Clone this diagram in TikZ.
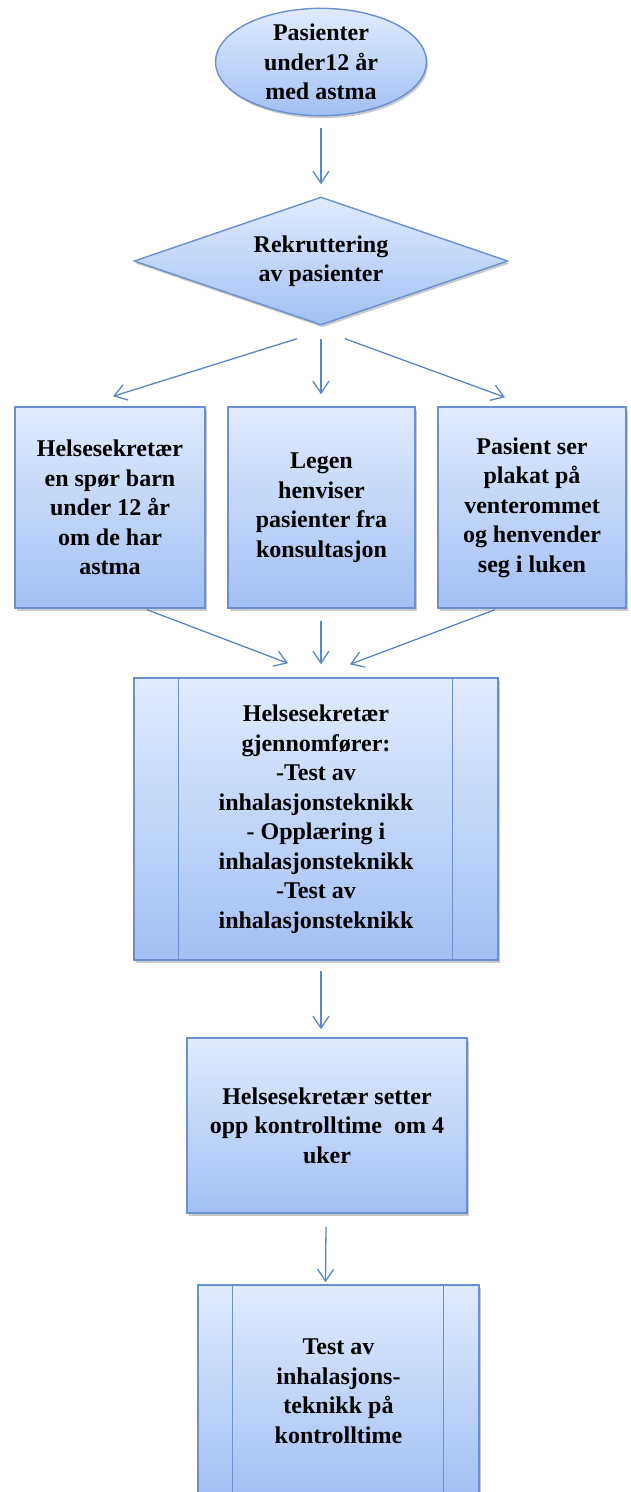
\documentclass[tikz,border=0pt]{standalone}
\usepackage{fontspec}
\setmainfont{Liberation Serif}
\usetikzlibrary{shapes.geometric,arrows.meta,shadows}
\definecolor{boxtop}{HTML}{E1EBFD}
\definecolor{boxbot}{HTML}{A2C0F5}
\definecolor{boxline}{HTML}{6B90CF}
\definecolor{arrowblue}{HTML}{5B86C6}
\tikzset{
  bluefill/.style={top color=boxtop, bottom color=boxbot, draw=boxline, line width=1.4pt,
    drop shadow={shadow xshift=1.5pt, shadow yshift=-2.5pt, opacity=0.35, fill=black!60}},
  startnode/.style={ellipse, bluefill, minimum width=211pt, minimum height=107pt, inner sep=0pt, align=center},
  choice/.style={diamond, bluefill, aspect=2.9, minimum width=374pt, minimum height=128pt, inner sep=0pt, align=center},
  process/.style={rectangle, bluefill, inner sep=0pt, align=center},
  flow/.style={arrowblue, line width=1.3pt, -{Straight Barb[length=12pt,width=16pt]}},
  subline/.style={boxline, line width=1.4pt}
}
\begin{document}
\begin{tikzpicture}[x=1pt, y=-1pt, font=\bfseries\fontsize{24}{29.5}\selectfont]
  \clip (0,0) rectangle (631,1492);

  \node[startnode] (start) at (321,62) {Pasienter\\under12 år\\med astma};
  \node[choice] (rekrut) at (321,261) {Rekruttering\\av pasienter};

  \foreach \n/\x/\w/\t in {b1/110/190/{Helsesekretær\\en spør barn\\under 12 år\\om de har\\astma},
                           b2/321.5/187/{Legen\\henviser\\pasienter fra\\konsultasjon},
                           b3/532/188/{Pasient ser\\plakat på\\venterommet\\og henvender\\seg i luken}} {
    \node[process, minimum width=\w pt, minimum height=201pt] (\n) at (\x,507.5) {\t};
  }

  \node[process, minimum width=364pt, minimum height=282pt] (test) at (316,819)
    {Helsesekretær\\gjennomfører:\\-Test av\\inhalasjonsteknikk\\- Opplæring i\\inhalasjonsteknikk\\-Test av\\inhalasjonsteknikk};
  \draw[subline] ([xshift=45pt]test.north west) -- ([xshift=45pt]test.south west);
  \draw[subline] ([xshift=-46pt]test.north east) -- ([xshift=-46pt]test.south east);

  \node[process, minimum width=280pt, minimum height=175pt] (kontroll) at (327,1125.5)
    {Helsesekretær setter\\opp kontrolltime\ \ om 4\\uker};

  \node[process, minimum width=281pt, minimum height=212pt] (slutt) at (338.5,1391)
    {Test av\\inhalasjons-\\teknikk på\\kontrolltime};
  \draw[subline] ([xshift=35pt]slutt.north west) -- ([xshift=35pt]slutt.south west);
  \draw[subline] ([xshift=-36pt]slutt.north east) -- ([xshift=-36pt]slutt.south east);

  \draw[flow] ([yshift=-12pt]start.south) -- ([yshift=12pt]rekrut.north);
  \draw[flow] ([xshift=-24pt,yshift=-13pt]rekrut.south) -- ([xshift=3pt,yshift=10pt]b1.north);
  \draw[flow] ([yshift=-13pt]rekrut.south) -- ([xshift=-0.5pt,yshift=12pt]b2.north);
  \draw[flow] ([xshift=24pt,yshift=-13pt]rekrut.south) -- ([xshift=-27pt,yshift=9pt]b3.north);
  \draw[flow] ([xshift=37pt,yshift=-1pt]b1.south) -- ([xshift=-28pt,yshift=14pt]test.north);
  \draw[flow] ([xshift=-0.5pt,yshift=-12pt]b2.south) -- ([xshift=5pt,yshift=13pt]test.north);
  \draw[flow] ([xshift=-37pt,yshift=-1pt]b3.south) -- ([xshift=34pt,yshift=13pt]test.north);
  \draw[flow] ([xshift=5pt,yshift=-10pt]test.south) -- ([xshift=-6pt,yshift=8pt]kontroll.north);
  \draw[flow] ([xshift=-1pt,yshift=-13pt]kontroll.south) -- ([xshift=-13pt,yshift=2pt]slutt.north);
\end{tikzpicture}
\end{document}
